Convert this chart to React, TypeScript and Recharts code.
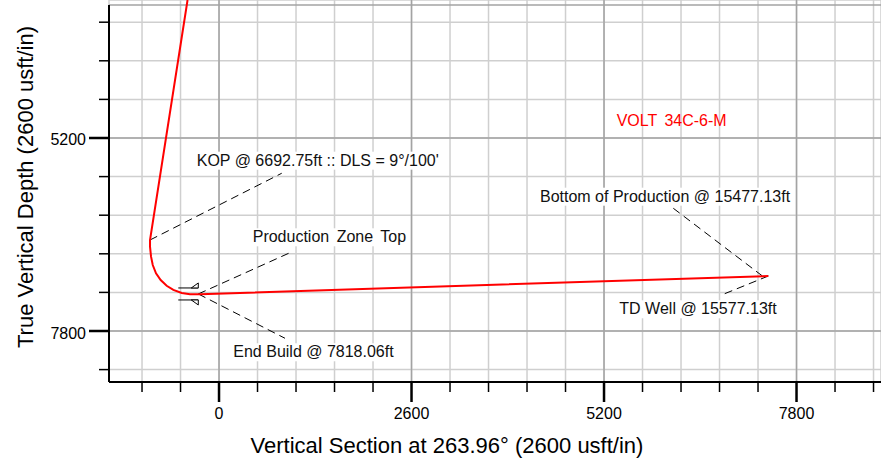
import React from 'react';
import {
  LineChart,
  Line,
  XAxis,
  YAxis,
  CartesianGrid,
  ReferenceLine,
  ReferenceDot,
  Label,
} from 'recharts';

const FONT = '"Liberation Sans", Arial, sans-serif';

// well path: vertical section (usft) and true vertical depth (usft)
const wellVS = [-425, -932, -932, -918, -895, -851, -788, -707, -617, -504, -392, -257, 7419];
const wellTVD = [3341, 6574, 6664, 6799, 6911, 7023, 7113, 7190, 7247, 7288, 7305, 7305, 7059];

const xTicks = [-1040, -520, 0, 520, 1040, 1560, 2080, 2600, 3120, 3640, 4160, 4680, 5200, 5720, 6240, 6760, 7280, 7800, 8320, 8840];
const yTicks = [3640, 4160, 4680, 5200, 5720, 6240, 6760, 7280, 7800, 8320];
const xMajor = [0, 2600, 5200, 7800];
const yMajor = [5200, 7800];

const X_DOMAIN: [number, number] = [-1486, 8941];
const Y_DOMAIN: [number, number] = [3341, 8487];
const PLOT_TOP = 3408;

// annotations
const labelText = [
  "KOP @ 6692.75ft :: DLS = 9°/100'",
  'Production Zone Top',
  'End Build @ 7818.06ft',
  'Bottom of Production @ 15477.13ft',
  'TD Well @ 15577.13ft',
];
const labelAt = [
  [-301, 5573],
  [455, 6605],
  [193, 8154],
  [4335, 6058],
  [5407, 7575],
];
const labelWidth = [246, 152, 162, 253, 160];

const leaders = [
  [[-932, 6574], [847, 5675]],
  [[-280, 7301], [959, 6745]],
  [[-280, 7301], [891, 7898]],
  [[6136, 6147], [7351, 7068]],
  [[7419, 7059], [6811, 7305]],
];

const wellName = 'VOLT 34C-6-M';
const wellNameAt = [5371, 5038];
const casingAt = [-280, 7301];

const data = wellVS.map((vs, i) => ({ vs, tvd: wellTVD[i] }));

const XTick = (props: any) => {
  const { x, y, payload } = props;
  const major = xMajor.includes(payload.value);
  return (
    <g>
      <line x1={x} x2={x} y1={y} y2={y + (major ? 20 : 10)} stroke="#000" strokeWidth={major ? 2.5 : 1.5} />
      {major && (
        <text x={x} y={y + 36.5} textAnchor="middle" fontSize={16} fontFamily={FONT} fill="#000">
          {payload.value}
        </text>
      )}
    </g>
  );
};

const YTick = (props: any) => {
  const { x, y, payload } = props;
  const major = yMajor.includes(payload.value);
  return (
    <g>
      <line x1={x - (major ? 20 : 10)} x2={x} y1={y} y2={y} stroke="#000" strokeWidth={major ? 2.5 : 1.5} />
      {major && (
        <text x={x - 23} y={y + 7.5} textAnchor="end" fontSize={16} fontFamily={FONT} fill="#000">
          {payload.value}
        </text>
      )}
    </g>
  );
};

const CasingMark = (props: any) => {
  const { cx, cy } = props;
  return (
    <g stroke="#000" strokeWidth={1} fill="#fff">
      <line x1={cx - 20} y1={cy - 6} x2={cx} y2={cy - 6} />
      <polygon points={`${cx - 7},${cy - 6} ${cx},${cy - 11} ${cx},${cy - 6}`} />
      <line x1={cx - 20} y1={cy + 6} x2={cx} y2={cy + 6} />
      <polygon points={`${cx - 7},${cy + 6} ${cx},${cy + 11} ${cx},${cy + 6}`} />
    </g>
  );
};

export default function App() {
  return (
    <div style={{ position: 'absolute', left: 0, top: 0, width: 881, height: 461, background: '#fff' }}>
      <LineChart width={881} height={461} data={data} margin={{ top: 0, right: 0, bottom: 0, left: 0 }}>
        <CartesianGrid stroke="#cfcfcf" strokeWidth={1.5} />
        <XAxis
          type="number"
          dataKey="vs"
          domain={X_DOMAIN}
          ticks={xTicks}
          interval={0}
          allowDataOverflow
          height={79}
          tickSize={0}
          tickMargin={0}
          tick={<XTick />}
          axisLine={{ stroke: '#000', strokeWidth: 2 }}
        >
          <Label
            content={() => (
              <text x={447} y={452.5} textAnchor="middle" fontSize={22} fontFamily={FONT} fill="#000">
                Vertical Section at 263.96° (2600 usft/in)
              </text>
            )}
          />
        </XAxis>
        <YAxis
          type="number"
          dataKey="tvd"
          domain={Y_DOMAIN}
          reversed
          ticks={yTicks}
          interval={0}
          allowDataOverflow
          width={109}
          tickSize={0}
          tickMargin={0}
          tick={<YTick />}
          axisLine={false}
        >
          <Label
            content={() => (
              <text transform="translate(33,187) rotate(-90)" textAnchor="middle" fontSize={22} fontFamily={FONT} fill="#000">
                True Vertical Depth (2600 usft/in)
              </text>
            )}
          />
        </YAxis>

        {labelText.map((t, i) => (
          <ReferenceDot
            key={`bg-${i}`}
            x={labelAt[i][0]}
            y={labelAt[i][1]}
            shape={(p: any) => (
              <rect x={p.cx - 2} y={p.cy - 14} width={labelWidth[i] + 4} height={18} fill="#fff" />
            )}
          />
        ))}

        {xMajor.map((v) => (
          <ReferenceLine key={`mx-${v}`} x={v} stroke="#a3a3a3" strokeWidth={1.5} />
        ))}
        {yMajor.map((v) => (
          <ReferenceLine key={`my-${v}`} y={v} stroke="#a3a3a3" strokeWidth={1.5} />
        ))}
        <ReferenceLine y={PLOT_TOP} stroke="#a3a3a3" strokeWidth={1.5} />
        <ReferenceLine
          segment={[{ x: X_DOMAIN[0], y: PLOT_TOP }, { x: X_DOMAIN[0], y: Y_DOMAIN[1] }]}
          stroke="#000"
          strokeWidth={2}
        />

        {leaders.map((s, i) => (
          <ReferenceLine
            key={`ld-${i}`}
            segment={[{ x: s[0][0], y: s[0][1] }, { x: s[1][0], y: s[1][1] }]}
            stroke="#000"
            strokeWidth={1}
            strokeDasharray="8 5"
          />
        ))}

        <Line
          type="linear"
          dataKey="tvd"
          stroke="#ff0000"
          strokeWidth={2}
          dot={false}
          isAnimationActive={false}
        />

        <ReferenceDot x={casingAt[0]} y={casingAt[1]} shape={<CasingMark />} />

        {labelText.map((t, i) => (
          <ReferenceDot
            key={`tx-${i}`}
            x={labelAt[i][0]}
            y={labelAt[i][1]}
            shape={(p: any) => (
              <text x={p.cx} y={p.cy} fontSize={16} fontFamily={FONT} fill="#111" style={{ wordSpacing: i === 1 ? 3 : 0 }}>
                {t}
              </text>
            )}
          />
        ))}
        <ReferenceDot
          x={wellNameAt[0]}
          y={wellNameAt[1]}
          shape={(p: any) => (
            <text x={p.cx} y={p.cy} fontSize={16} fontFamily={FONT} fill="#ff0000" style={{ wordSpacing: 3 }}>
              {wellName}
            </text>
          )}
        />
      </LineChart>
    </div>
  );
}
